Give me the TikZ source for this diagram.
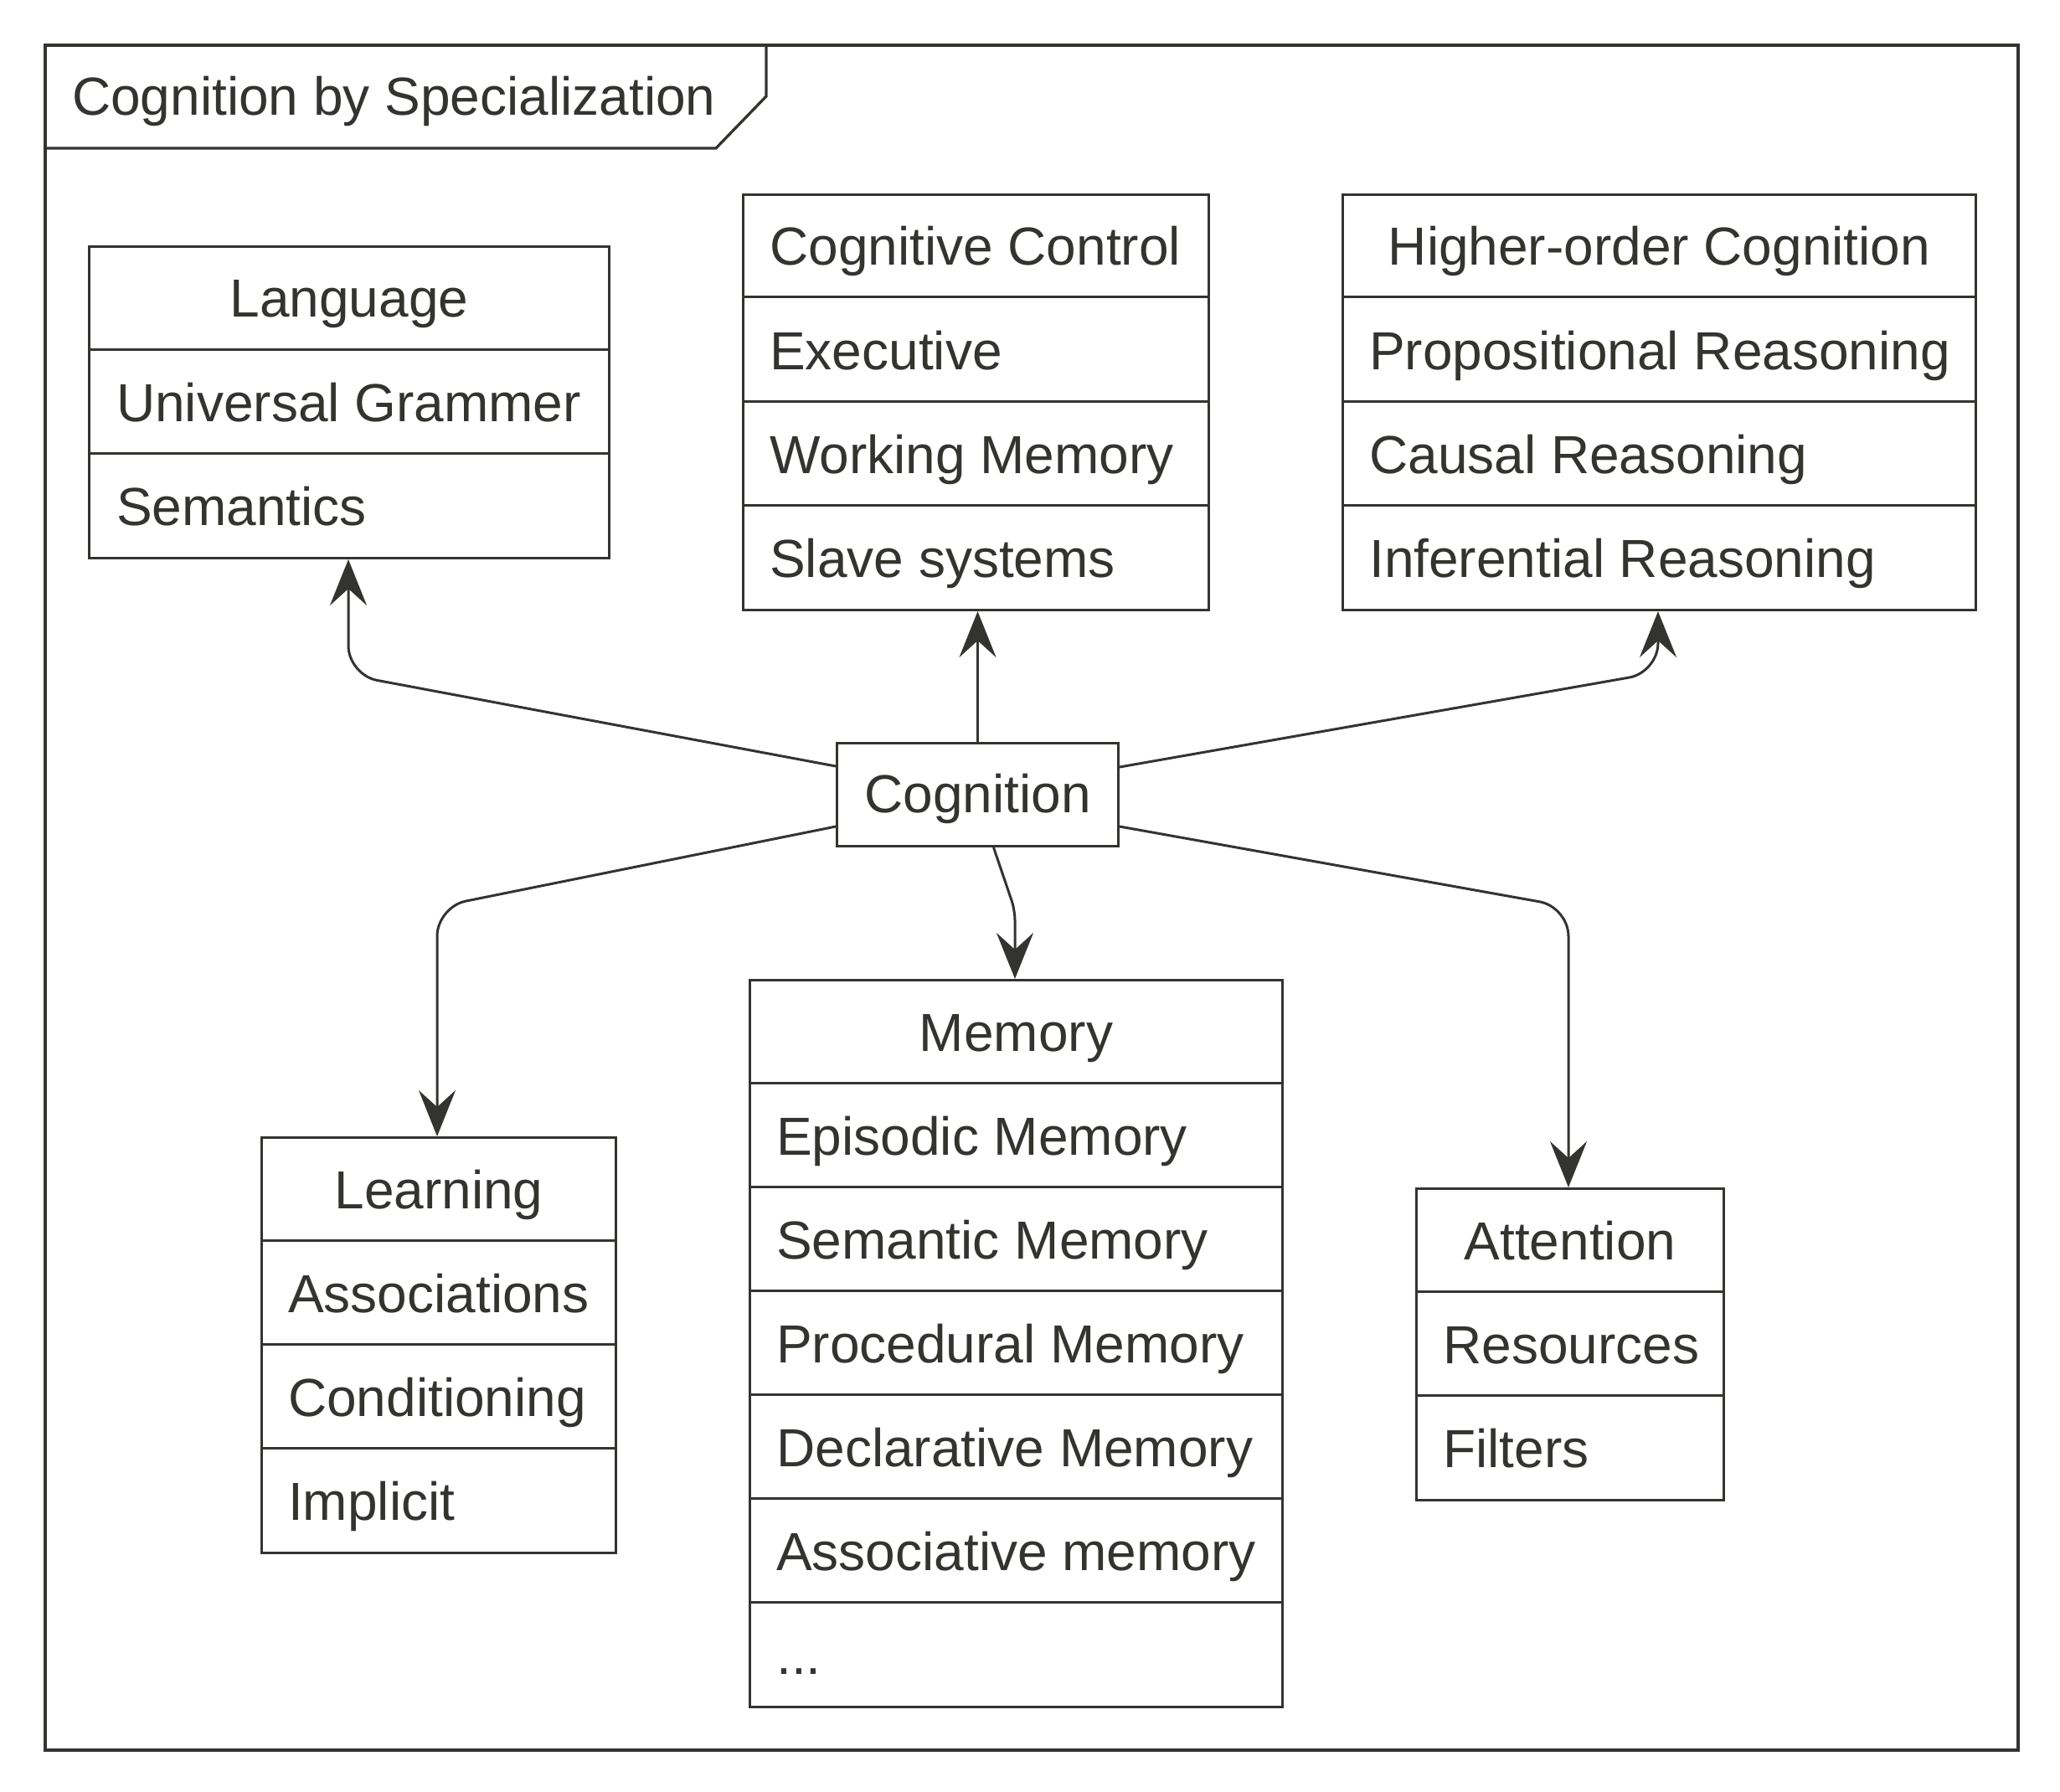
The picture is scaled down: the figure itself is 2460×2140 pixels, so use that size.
\documentclass[tikz,border=0pt]{standalone}
\usepackage{fontspec}
\setmainfont{Liberation Sans}
\usetikzlibrary{arrows.meta,calc}
\definecolor{ink}{RGB}{51,51,48}
\begin{document}
\begin{tikzpicture}[x=1pt,y=-1pt,
  every node/.style={font=\fontsize{64}{76}\selectfont, text=ink},
  cbox/.style={draw=ink, line width=3pt, rectangle, anchor=north west, inner sep=0pt},
  sep/.style={draw=ink, line width=3pt},
  hdr/.style={anchor=base, inner sep=0pt},
  item/.style={anchor=base west, inner sep=0pt},
  conn/.style={draw=ink, line width=3pt, rounded corners=35pt, -{Stealth[length=55pt, width=44pt, inset=20pt]}},
  frame/.style={draw=ink, line width=3.3pt}
]
\useasboundingbox (0,0) rectangle (2460,2140);

% frame
\draw[frame] (54,54) rectangle (2410,2090);
\draw[frame] (54,177) -- (855,177) -- (915,115) -- (915,54);
\node[item] (title) at (86,138) {Cognition by Specialization};

% Language
\node[cbox, minimum width=621pt, minimum height=372pt] (lang) at (105,293) {};
\foreach \k in {1,2} \draw[sep] ($(lang.north west)+(0,124*\k)$) -- ($(lang.north east)+(0,124*\k)$);
\node[hdr] (langh) at ($(lang.north)+(0,86)$) {Language};
\node[item] (lang1) at ($(lang.north west)+(34,210)$) {Universal Grammer};
\node[item] (lang2) at ($(lang.north west)+(34,334)$) {Semantics};

% Cognitive Control
\node[cbox, minimum width=556pt, minimum height=496pt] (cc) at (886,231) {};
\foreach \k in {1,2,3} \draw[sep] ($(cc.north west)+(0,124*\k)$) -- ($(cc.north east)+(0,124*\k)$);
\node[item] (cch) at ($(cc.north west)+(33,86)$) {Cognitive Control};
\node[item] (cc1) at ($(cc.north west)+(33,210)$) {Executive};
\node[item] (cc2) at ($(cc.north west)+(33,334)$) {Working Memory};
\node[item] (cc3) at ($(cc.north west)+(33,458)$) {Slave systems};

% Higher-order Cognition
\node[cbox, minimum width=756pt, minimum height=496pt] (hoc) at (1602,231) {};
\foreach \k in {1,2,3} \draw[sep] ($(hoc.north west)+(0,124*\k)$) -- ($(hoc.north east)+(0,124*\k)$);
\node[hdr] (hoch) at ($(hoc.north)+(0,86)$) {Higher-order Cognition};
\node[item] (hoc1) at ($(hoc.north west)+(33,210)$) {Propositional Reasoning};
\node[item] (hoc2) at ($(hoc.north west)+(33,334)$) {Causal Reasoning};
\node[item] (hoc3) at ($(hoc.north west)+(33,458)$) {Inferential Reasoning};

% Cognition
\node[cbox, minimum width=336pt, minimum height=123pt] (cog) at (998,886) {};
\node[hdr] (cogt) at ($(cog.north)+(0,84)$) {Cognition};

% Learning
\node[cbox, minimum width=423pt, minimum height=496pt] (learn) at (311,1357) {};
\foreach \k in {1,2,3} \draw[sep] ($(learn.north west)+(0,124*\k)$) -- ($(learn.north east)+(0,124*\k)$);
\node[hdr] (learnh) at ($(learn.north)+(0,86)$) {Learning};
\node[item] (learn1) at ($(learn.north west)+(33,210)$) {Associations};
\node[item] (learn2) at ($(learn.north west)+(33,334)$) {Conditioning};
\node[item] (learn3) at ($(learn.north west)+(33,458)$) {Implicit};

% Memory
\node[cbox, minimum width=636pt, minimum height=868pt] (mem) at (894,1169) {};
\foreach \k in {1,...,6} \draw[sep] ($(mem.north west)+(0,124*\k)$) -- ($(mem.north east)+(0,124*\k)$);
\node[hdr] (memh) at ($(mem.north)+(0,86)$) {Memory};
\node[item] (mem1) at ($(mem.north west)+(33,210)$) {Episodic Memory};
\node[item] (mem2) at ($(mem.north west)+(33,334)$) {Semantic Memory};
\node[item] (mem3) at ($(mem.north west)+(33,458)$) {Procedural Memory};
\node[item] (mem4) at ($(mem.north west)+(33,582)$) {Declarative Memory};
\node[item] (mem5) at ($(mem.north west)+(33,706)$) {Associative memory};
\node[item] (mem6) at ($(mem.north west)+(33,830)$) {...};

% Attention
\node[cbox, minimum width=367pt, minimum height=372pt] (att) at (1690,1418) {};
\foreach \k in {1,2} \draw[sep] ($(att.north west)+(0,124*\k)$) -- ($(att.north east)+(0,124*\k)$);
\node[hdr] (atth) at ($(att.north)+(0,86)$) {Attention};
\node[item] (att1) at ($(att.north west)+(33,210)$) {Resources};
\node[item] (att2) at ($(att.north west)+(33,334)$) {Filters};

% connectors
\coordinate (k1) at (416,806);
\coordinate (k3) at (1980,803);
\coordinate (k4) at (522,1083);
\coordinate (k5) at (1212,1087);
\coordinate (k6) at (1873,1083);
\draw[conn] ([yshift=-29pt]cog.north west) -- (k1) -- (k1 |- lang.south);
\draw[conn] (cog.north) -- (cog.north |- cc.south);
\draw[conn] ([yshift=-30pt]cog.north east) -- (k3) -- (k3 |- hoc.south);
\draw[conn] ([yshift=25pt]cog.south west) -- (k4) -- (k4 |- learn.north);
\draw[conn, rounded corners=12pt] ([xshift=19pt]cog.south) -- (k5) -- (k5 |- mem.north);
\draw[conn] ([yshift=25pt]cog.south east) -- (k6) -- (k6 |- att.north);
\end{tikzpicture}
\end{document}
